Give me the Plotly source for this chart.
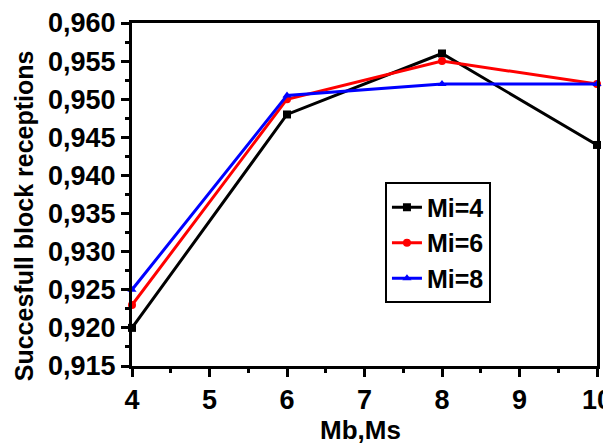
import plotly.graph_objects as go

x_vals = [4, 6, 8, 10]
mi4 = [0.920, 0.948, 0.956, 0.944]
mi6 = [0.923, 0.950, 0.955, 0.952]
mi8 = [0.925, 0.9505, 0.952, 0.952]
series_names = ["Mi=4", "Mi=6", "Mi=8"]
x_title = "Mb,Ms"
y_title = "Succesfull block receptions"

FAM = "Liberation Sans, Arial, sans-serif"
TICKFONT = dict(family=FAM, size=27, color="black", weight="bold")

fig = go.Figure()
styles = [("black", "square"), ("red", "circle"), ("blue", "triangle-up")]
for name, ys, (col, sym) in zip(series_names, [mi4, mi6, mi8], styles):
    fig.add_trace(go.Scatter(
        x=x_vals, y=ys, name=name, mode="lines+markers",
        line=dict(color=col, width=3),
        marker=dict(symbol=sym, size=8, color=col),
        cliponaxis=False,
    ))

# page body has an 8px margin, so the figure is drawn at (8, 8)
fig.update_layout(
    width=611, height=439,
    margin=dict(l=124, r=22, t=15, b=81),
    paper_bgcolor="white", plot_bgcolor="white",
    separators=",.",
    font=TICKFONT,
    showlegend=True,
    legend=dict(
        x=0.544, y=0.535, xanchor="left", yanchor="top",
        bordercolor="black", borderwidth=2, bgcolor="white",
        font=dict(family=FAM, size=25, color="black", weight="bold"),
        tracegroupgap=0, itemwidth=30,
    ),
    annotations=[
        dict(text=y_title, xref="paper", yref="paper", x=-0.232, y=0.437,
             xanchor="center", yanchor="middle", textangle=-90, showarrow=False,
             font=dict(family=FAM, size=25, color="black", weight="bold")),
        dict(text=x_title, xref="paper", yref="paper", x=0.492, y=-0.187,
             xanchor="center", yanchor="middle", showarrow=False,
             font=dict(family=FAM, size=26, color="black", weight="bold")),
    ],
)
fig.update_xaxes(
    range=[4, 10], dtick=1, tick0=4, automargin=False,
    ticklabeloverflow="allow",
    showgrid=False, zeroline=False,
    showline=True, linecolor="black", linewidth=3, mirror=True,
    ticks="outside", ticklen=8, tickwidth=3, tickcolor="black",
    minor=dict(ticks="outside", ticklen=4, tickwidth=3, tickcolor="black", dtick=0.5),
    tickfont=TICKFONT,
)
fig.update_yaxes(
    range=[0.915, 0.960], dtick=0.005, tick0=0.915, automargin=False,
    ticklabeloverflow="allow",
    tickformat=".3f",
    showgrid=False, zeroline=False,
    showline=True, linecolor="black", linewidth=3, mirror=True,
    ticks="outside", ticklen=8, tickwidth=3, tickcolor="black",
    minor=dict(ticks="outside", ticklen=4, tickwidth=3, tickcolor="black", dtick=0.0025),
    tickfont=TICKFONT,
)

fig.write_html("out.html")
